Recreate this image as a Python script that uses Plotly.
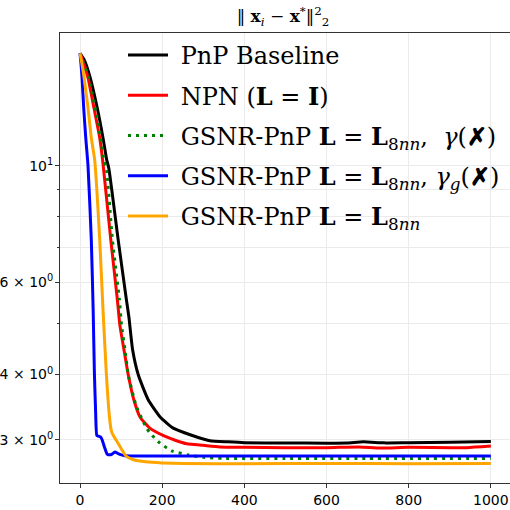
import plotly.graph_objects as go

# ---- data ----
black_x = [0, 10, 25, 42, 56, 65, 70, 93, 113, 119, 128, 142, 166, 195, 227, 268, 316, 360, 400, 500, 600, 650, 690, 740, 800, 900, 1000]
black_y = [16.4, 15.95, 14.73, 12.9, 11.31, 10.27, 9.91, 7.22, 5.55, 5.15, 4.46, 3.99, 3.58, 3.32, 3.16, 3.07, 2.99, 2.975, 2.965, 2.96, 2.958, 2.96, 2.975, 2.962, 2.965, 2.97, 2.98]

red_x = [0, 8, 19.5, 34, 48, 56, 75, 91, 97, 107, 117.5, 131, 146, 170, 202, 230, 260, 300, 340, 400, 500, 600, 680, 730, 800, 940, 1000]
red_y = [16.4, 15.8, 14.73, 12.9, 11.31, 10.1, 7.22, 5.55, 4.97, 4.46, 3.99, 3.58, 3.32, 3.16, 3.06, 3.0, 2.95, 2.93, 2.91, 2.905, 2.9, 2.9, 2.91, 2.895, 2.905, 2.9, 2.92]

green_x = [0, 8, 21, 37, 50, 58, 64, 79, 96, 101, 109.5, 117.5, 136, 150, 162, 174, 190, 223, 263, 300, 350, 500, 700, 1000]
green_y = [16.4, 15.75, 14.73, 12.9, 11.31, 10.27, 9.91, 7.22, 5.55, 4.97, 4.46, 3.99, 3.5, 3.3, 3.16, 3.07, 2.98, 2.86, 2.81, 2.78, 2.767, 2.765, 2.765, 2.765]

blue_x = [0, 2, 5, 9, 14, 19.5, 27.5, 32, 35, 38, 41, 45, 50, 54, 60, 66, 73, 78, 85, 95, 110, 200, 400, 600, 800, 1000]
blue_y = [16.4, 15.8, 14.73, 12.9, 11.31, 10.0, 7.22, 5.31, 4.03, 3.4, 3.06, 3.05, 3.04, 3.0, 2.9, 2.82, 2.81, 2.82, 2.845, 2.82, 2.80, 2.797, 2.797, 2.797, 2.797, 2.797]

orange_x = [0, 4, 10, 19.5, 27.5, 35.7, 48, 56, 64, 68, 72, 76, 80, 90, 100, 113, 130, 160, 200, 250, 400, 600, 800, 1000]
orange_y = [16.4, 15.8, 14.73, 12.9, 11.31, 10.27, 7.22, 5.31, 4.03, 3.6, 3.3, 3.13, 3.07, 2.98, 2.89, 2.79, 2.75, 2.725, 2.712, 2.705, 2.702, 2.706, 2.702, 2.705]

names = [
    " PnP Baseline",
    " NPN (<b>L</b> = <b>I</b>)",
    " GSNR-PnP <b>L</b> = <b>L</b><sub>8<i>nn</i></sub>,  <i>γ</i>(<b>✗</b>)",
    " GSNR-PnP <b>L</b> = <b>L</b><sub>8<i>nn</i></sub>, <i>γ</i><sub><i>g</i></sub>(<b>✗</b>)",
    " GSNR-PnP <b>L</b> = <b>L</b><sub>8<i>nn</i></sub>",
]
colors = ["#000000", "#ff0000", "#008000", "#0000ff", "#ffa500"]
dashes = ["solid", "solid", "3px,5px", "solid", "solid"]

y_tickvals = [3, 4, 6, 10]
y_ticktext = ["3 × 10<sup>0</sup>", "4 × 10<sup>0</sup>", "6 × 10<sup>0</sup>", "10<sup>1</sup>"]
y_minorvals = [5, 7, 8, 9]
x_tickvals = [0, 200, 400, 600, 800, 1000]

series = [(black_x, black_y), (red_x, red_y), (green_x, green_y), (blue_x, blue_y), (orange_x, orange_y)]

fig = go.Figure()
for i, ((xs, ys), nm, c, d) in enumerate(zip(series, names, colors, dashes)):
    fig.add_trace(go.Scatter(
        x=xs, y=ys, mode="lines", name=nm, legendgroup=str(i),
        line=dict(color=c, width=3, dash=d, shape="spline", smoothing=0.5),
    ))

fig.update_layout(
    width=510, height=510,
    margin=dict(l=60, r=0, t=33, b=27),
    plot_bgcolor="white", paper_bgcolor="white",
    title=dict(text="‖ <b>x</b><sub><i>i</i></sub> − <b>x</b><sup>*</sup>‖<sup>2</sup><sub>2</sub>",
               x=0.555, xanchor="center", y=0.968, yanchor="middle",
               font=dict(family="DejaVu Serif", size=17, color="black")),
    legend=dict(x=0.14, y=1.0, xanchor="left", yanchor="top",
                bgcolor="rgba(0,0,0,0)", borderwidth=0,
                font=dict(family="DejaVu Serif", size=24, color="black"),
                tracegroupgap=6, itemwidth=40),
    font=dict(family="DejaVu Sans", size=14, color="black"),
    showlegend=True,
)
fig.update_xaxes(
    range=[-48.7, 1046.6], tickvals=x_tickvals,
    showgrid=True, gridcolor="#ebebeb", gridwidth=1, zeroline=False,
    showline=True, linecolor="#333333", linewidth=1, mirror=True,
    ticks="outside", ticklen=4, tickcolor="#333333",
    tickfont=dict(family="DejaVu Sans", size=14, color="black"),
)
fig.update_yaxes(
    type="log", range=[0.395, 1.2538],
    tickvals=y_tickvals, ticktext=y_ticktext,
    showgrid=True, gridcolor="#ebebeb", gridwidth=1, zeroline=False,
    showline=True, linecolor="#333333", linewidth=1, mirror=True,
    ticks="outside", ticklen=4, tickcolor="#333333", ticklabelstandoff=-1,
    tickfont=dict(family="DejaVu Sans", size=14, color="black"),
    minor=dict(tickvals=y_minorvals, ticks="outside", ticklen=2, tickcolor="#333333",
               showgrid=True, gridcolor="#ebebeb", gridwidth=1),
)

fig.write_html("out.html", config={"displayModeBar": False},
               post_script="document.body.style.margin='0';document.body.style.overflow='hidden';")
